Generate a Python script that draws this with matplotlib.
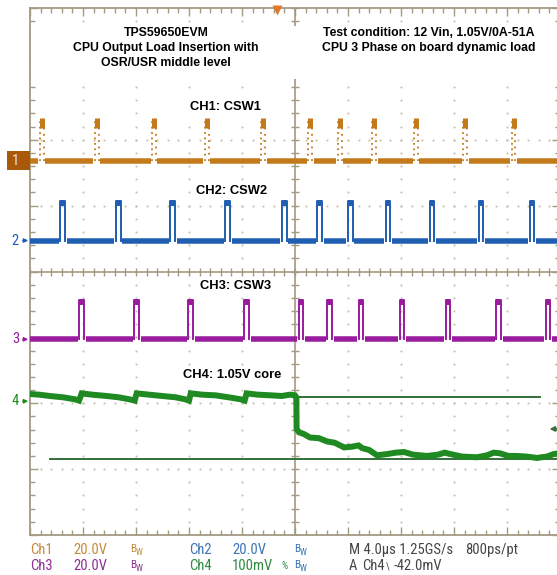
import os
import matplotlib
matplotlib.use('Agg')
import matplotlib.pyplot as plt
import numpy as np
from matplotlib.transforms import blended_transform_factory
from matplotlib.patches import Rectangle
from matplotlib import font_manager
from matplotlib.font_manager import FontProperties

# ---------------- data ----------------
time_per_div_us = 4.0
n_div_x, n_div_y = 10, 8
vin_v = 12.0
ch_names = ['CH1', 'CH2', 'CH3', 'CH4']
ch_scale = [20.0, 20.0, 20.0, 100.0]          # V/div (CH1-3), mV/div (CH4)
ch_offset_div = [1.68, 0.47, -1.03, -1.97]    # ground-marker positions

ch1_pulse_us = [-19.1, -14.97, -10.64, -6.66, -2.39, 1.15, 3.37, 5.98, 9.13, 12.85, 16.5]
ch2_pulse_us = [-17.53, -13.34, -9.23, -5.08, -0.81, 1.86, 4.17, 7.02, 10.34, 14.04, 17.89]
ch3_pulse_us = [-16.1, -11.95, -7.87, -3.65, 0.45, 2.62, 4.98, 8.08, 11.55, 15.37, 19.09]
pulse_width_us = [0.28, 0.36, 0.36]

ch4_t_us = [-20.0, -19.3, -18.5, -17.5, -16.6, -16.3, -16.1, -15.3, -14.2, -13.3, -12.5,
            -12.1, -11.95, -11.0, -10.0, -9.0, -8.3, -8.0, -7.87, -7.0, -6.0, -5.0, -4.1,
            -3.8, -3.65, -2.8, -1.8, -1.0, -0.4, 0.0, 0.1,
            0.12, 0.3, 0.7, 1.13, 1.8, 2.42, 3.0, 3.7, 4.3, 4.8, 5.06, 5.6, 6.19, 7.0,
            7.6, 8.23, 8.9, 9.96, 10.8, 11.3, 11.7, 12.6, 13.74, 14.5, 15.0, 15.47, 16.1,
            16.75, 17.5, 18.26, 19.0, 19.55, 20.0]
ch4_mv = [11, 10, 8, 6, 3, 1, 12, 10, 8, 6, 3,
          1, 12, 10, 8, 6, 3, 1, 12, 10, 9, 6, 3,
          1, 12, 10, 9, 8, 10, 9, 6,
          -42, -47, -50, -55, -56, -61, -63, -70, -69, -67, -71, -74, -82, -80,
          -78, -77, -81, -83, -81, -78, -80, -84, -85, -82, -78, -79, -83,
          -83, -84, -86, -84, -80, -79]

cursor_mv = [6.0, -88.0]
cursor_span_us = [(0.0, 18.5), (-18.5, 20.0)]
trigger_level_mv = -42.0
trigger_pos_us = -1.36

title_left = ['TPS59650EVM', 'CPU Output Load Insertion with', 'OSR/USR middle level']
title_right = ['Test condition: 12 Vin, 1.05V/0A-51A', 'CPU 3 Phase on board dynamic load']
ch_labels = ['CH1: CSW1', 'CH2: CSW2', 'CH3: CSW3', 'CH4: 1.05V core']

# ---------------- styling ----------------
W, H, DPI = 557, 575, 100
C1, C2, C3, C4 = '#c27a1a', '#1f5eb0', '#991b9e', '#1f8a22'
C1_BOX = '#a9590a'
CUR = '#33703a'
GRID = '#a39a82'
DOT = '#c4bcaa'
PX = 0.72  # points per pixel

BOLD = 'Liberation Sans'

# find a narrow / condensed regular face for the scope readout
cands = []
for f in font_manager.fontManager.ttflist:
    n = os.path.basename(f.fname).lower()
    if ('narrow' in n or 'condensed' in n) and not any(k in n for k in ('bold', 'italic', 'oblique', 'light', 'thin', 'black', 'semi', 'medium', 'extra')):
        cands.append(f.fname)


def rank(p):
    n = os.path.basename(p).lower()
    for i, k in enumerate(('liberationsansnarrow', 'arialn', 'robotocondensed', 'opensans_condensed',
                           'notosans-condensed', 'dejavusanscondensed')):
        if k in n.replace('_', '').replace('-', '') or k in n:
            return i
    return 99


cands.sort(key=rank)
if cands:
    NFP = dict(fontproperties=FontProperties(fname=cands[0]))
    NSIZE = 10.5
    NARROW_OK = True
else:
    NFP = dict(family='Liberation Sans')
    NSIZE = 9.0
    NARROW_OK = False

fig = plt.figure(figsize=(W / DPI, H / DPI), dpi=DPI)
fig.patch.set_facecolor('white')

x0, x1, y0, y1 = 30, 560, 8, 535
ax = fig.add_axes([x0 / W, 1 - y1 / H, (x1 - x0) / W, (y1 - y0) / H])
half_t = time_per_div_us * n_div_x / 2
ax.set_xlim(-half_t, half_t)
ax.set_ylim(-n_div_y / 2, n_div_y / 2)
ax.set_facecolor('white')
for s in ax.spines.values():
    s.set_color(GRID)
    s.set_linewidth(1.3)
ax.set_xticks(np.arange(-half_t, half_t + 0.01, time_per_div_us))
ax.set_yticks(np.arange(-4, 4.01, 1))
ax.set_xticks(np.arange(-half_t, half_t + 0.01, time_per_div_us / 5), minor=True)
ax.set_yticks(np.arange(-4, 4.01, 0.2), minor=True)
ax.tick_params(which='both', direction='in', top=True, right=True, bottom=True, left=True,
               labelbottom=False, labelleft=False, color=GRID, width=1.0)
ax.tick_params(which='major', length=8 * PX)
ax.tick_params(which='minor', length=5 * PX)

# dotted grid
for gx in np.arange(-half_t + time_per_div_us, half_t, time_per_div_us):
    if abs(gx) < 1e-6:
        continue
    ys = np.arange(-4, 4.01, 0.2)
    ax.plot(np.full_like(ys, gx), ys, ls='none', marker='s', ms=1.3, color=DOT, mec='none', zorder=1)
for gy in range(-3, 4):
    if gy == 0:
        continue
    xs = np.arange(-half_t, half_t + 0.01, time_per_div_us / 5)
    ax.plot(xs, np.full_like(xs, gy), ls='none', marker='s', ms=1.3, color=DOT, mec='none', zorder=1)

# centre cross with ticks
ax.axhline(0, color=GRID, lw=1.2, zorder=1)
ax.axvline(0, color=GRID, lw=1.2, zorder=1)
xs = np.arange(-half_t, half_t + 0.01, time_per_div_us / 5)
ax.plot(xs, np.zeros_like(xs), ls='none', marker='|', ms=8 * PX, mew=1.0, color=GRID, zorder=1)
ys = np.arange(-4, 4.01, 0.2)
ax.plot(np.zeros_like(ys), ys, ls='none', marker='_', ms=8 * PX, mew=1.0, color=GRID, zorder=1)


def draw_switch(pulses, idx, width, color, dotted=False):
    off = ch_offset_div[idx]
    hi = off + vin_v / ch_scale[idx]
    gap = 0.12
    starts = [-half_t] + [p + width / 2 + gap for p in pulses]
    ends = [p - width / 2 - gap for p in pulses] + [half_t]
    for a, b in zip(starts, ends):
        if b > a:
            ax.plot([a, b], [off, off], color=color, lw=5.5 * PX, solid_capstyle='butt', zorder=3)
    for p in pulses:
        l, r = p - width / 2, p + width / 2
        if dotted:
            ax.plot([l, l], [off, hi], color=color, lw=1.3, ls=(0, (1, 2)), zorder=3)
            ax.plot([r, r], [off, hi], color=color, lw=1.3, ls=(0, (1, 2.5)), zorder=3)
            ax.plot([p, p], [hi - 2.0 / ch_scale[idx], hi + 1.0 / ch_scale[idx]], color=color,
                    lw=5 * PX, solid_capstyle='butt', zorder=3)
        else:
            ax.plot([l, l, r, r], [off, hi, hi, off], color=color, lw=1.4, zorder=3)
            ax.plot([l, r], [hi - 0.03, hi - 0.03], color=color, lw=6 * PX,
                    solid_capstyle='butt', zorder=3)


draw_switch(ch1_pulse_us, 0, pulse_width_us[0], C1, dotted=True)
draw_switch(ch2_pulse_us, 1, pulse_width_us[1], C2)
draw_switch(ch3_pulse_us, 2, pulse_width_us[2], C3)

# CH4 output voltage
ch4_div = [ch_offset_div[3] + v / ch_scale[3] for v in ch4_mv]
ax.plot(ch4_t_us, ch4_div, color=C4, lw=6 * PX, zorder=3, solid_joinstyle='miter')

# cursors
for v, (a, b) in zip(cursor_mv, cursor_span_us):
    yv = ch_offset_div[3] + v / ch_scale[3]
    ax.plot([a, b], [yv, yv], color=CUR, lw=1.4, zorder=2, clip_on=False)

# trigger level arrow (right) and trigger position marker (top)
ty = ch_offset_div[3] + trigger_level_mv / ch_scale[3]
ax.annotate('', xy=(19.0, ty), xytext=(20.0, ty),
            arrowprops=dict(arrowstyle='-|>', color=CUR, lw=1.3, mutation_scale=7),
            annotation_clip=False)
ax.plot([trigger_pos_us], [3.97], marker='v', ms=7, color='#e07a2a', mec='none',
        clip_on=False, zorder=5)


def fx(px):
    return px / W


def fy(py):
    return 1 - py / H


# white label panel
fig.patches.append(Rectangle((fx(31), fy(79)), fx(557) - fx(31), fy(26) - fy(79),
                             transform=fig.transFigure, facecolor='white', edgecolor='none',
                             zorder=3))

for i, t in enumerate(title_left):
    fig.text(fx(166), fy(33 + 15 * i), t, ha='center', va='center', fontsize=8.8,
             fontweight='bold', family=BOLD, zorder=5)
for i, t in enumerate(title_right):
    fig.text(fx(429), fy(33 + 15 * i), t, ha='center', va='center', fontsize=8.8,
             fontweight='bold', family=BOLD, zorder=5)

label_pos = [(225, 107), (232, 191), (236, 286), (232, 375)]
for t, (px, py) in zip(ch_labels, label_pos):
    fig.text(fx(px), fy(py), t, ha='center', va='center', fontsize=9.3, fontweight='bold',
             family=BOLD, zorder=5,
             bbox=dict(facecolor='white', edgecolor='none', pad=1.5))

# channel ground markers on the left
bt = blended_transform_factory(fig.transFigure, ax.transData)
box_h = 19 / 65.9
fig.patches.append(Rectangle((fx(7), ch_offset_div[0] - box_h / 2), fx(30) - fx(7), box_h,
                             transform=bt, facecolor=C1_BOX, edgecolor='none', zorder=4))
mcols = ['#f3e6cf', C2, C3, C4]
for i in range(4):
    fig.text(fx(15.5), ch_offset_div[i], str(i + 1), transform=bt, ha='center', va='center',
             fontsize=NSIZE, color=mcols[i], zorder=6, **NFP)
    ax.annotate('', xy=(fx(31), ch_offset_div[i]), xycoords=bt,
                xytext=(fx(20), ch_offset_div[i]), textcoords=bt,
                arrowprops=dict(arrowstyle='-|>', color=mcols[i], lw=1.0, mutation_scale=6),
                annotation_clip=False, zorder=6)

# bottom readout
MC = '#454545'
B1 = '#c68a3c'
B2 = '#3a74b6'
B3 = '#8e2f94'
B4 = '#2e8a3e'


def readout(px, py, s, c, size=None):
    fig.text(fx(px), fy(py), s, ha='left', va='center', fontsize=size or NSIZE, color=c, **NFP)


def bw(px, py, c):
    fig.text(fx(px), fy(py - 1), 'B', ha='left', va='center', fontsize=8, color=c, **NFP)
    fig.text(fx(px + 6), fy(py - 2), 'W', ha='left', va='top', fontsize=6.5, color=c, **NFP)


r1, r2 = 550, 566
readout(30, r1, 'Ch1', B1)
readout(73, r1, '20.0V', B1)
bw(130, r1, B1)
readout(189, r1, 'Ch2', B2)
readout(232, r1, '20.0V', B2)
bw(294, r1, B2)
readout(349, r1, 'M 4.0\u00b5s 1.25GS/s', MC)
readout(465, r1, '800ps/pt', MC)

readout(30, r2, 'Ch3', B3)
readout(73, r2, '20.0V', B3)
bw(130, r2, B3)
readout(189, r2, 'Ch4', B4)
readout(232, r2, '100mV', B4)
readout(281, r2, '%', B4, size=7)
bw(294, r2, B2)
readout(349, r2, 'A', MC)
readout(362, r2, 'Ch4', MC)
readout(386, r2, '\\', MC, size=7)
readout(394, r2, '-42.0mV', MC)

fig.savefig('out.png', dpi=DPI, facecolor='white')
